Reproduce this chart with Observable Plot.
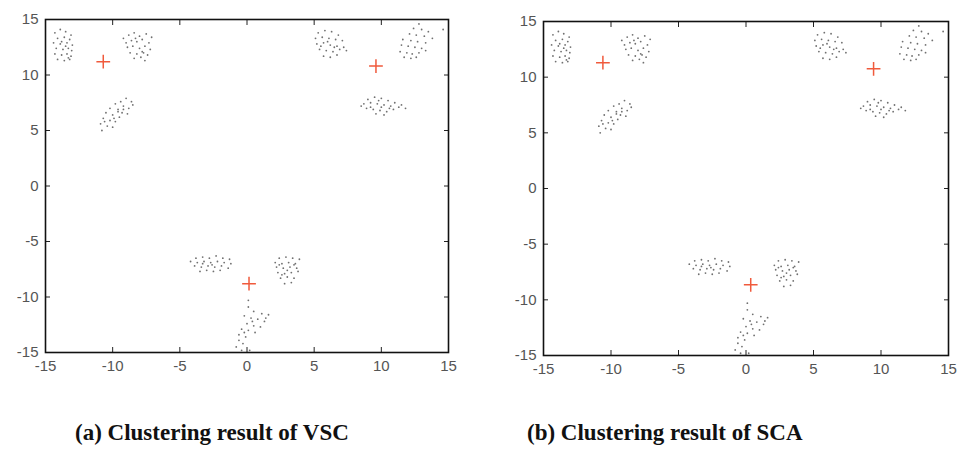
<!DOCTYPE html>
<html><head><meta charset="utf-8">
<script src="https://cdn.jsdelivr.net/npm/d3@7"></script>
<script src="https://cdn.jsdelivr.net/npm/@observablehq/plot@0.6"></script>
<style>
body{margin:0;background:#fff;width:959px;height:457px;position:relative;overflow:hidden}
.panel{position:absolute;top:0}
.cap{position:absolute;top:421px;font-family:"Liberation Serif","Times New Roman",serif;font-weight:bold;font-size:23px;color:#111;white-space:nowrap;line-height:1}
</style></head>
<body>
<div id="a" class="panel" style="left:0"></div>
<div id="b" class="panel" style="left:480px"></div>
<div id="capA" class="cap" style="left:75px"></div>
<div id="capB" class="cap" style="left:527px"></div>
<script>
const ticks = [-15, -10, -5, 0, 5, 10, 15];
const captions = ["(a) Clustering result of VSC", "(b) Clustering result of SCA"];

const cluster1 = [[-14.3,13.8],[-13.9,14.1],[-13.5,13.9],[-13.1,13.6],[-14.1,13.3],[-13.6,13.4],[-13.2,13.2],[-14.4,12.9],[-13.9,12.8],[-13.4,12.9],[-13.0,12.7],[-14.2,12.4],[-13.7,12.3],[-13.3,12.4],[-13.05,12.2],[-14.3,11.9],[-13.8,11.8],[-13.4,11.9],[-13.1,11.7],[-14.1,11.4],[-13.6,11.3],[-13.2,11.4],[-13.5,12.6],[-13.8,13.0],[-13.3,11.55]];
const cluster2 = [[-9.2,13.3],[-8.8,13.6],[-8.4,13.8],[-8.0,13.5],[-7.5,13.7],[-7.1,13.4],[-9.0,12.9],[-8.6,13.1],[-8.2,13.0],[-7.8,13.2],[-7.3,12.9],[-8.9,12.5],[-8.5,12.6],[-8.0,12.4],[-7.6,12.6],[-7.2,12.3],[-8.7,12.0],[-8.2,11.9],[-7.8,12.1],[-7.4,11.8],[-8.4,11.5],[-7.9,11.6],[-7.6,11.3],[-8.3,13.3],[-7.7,12.0]];
const cluster3 = [[-9.0,7.9],[-8.6,7.6],[-9.4,7.6],[-9.8,7.4],[-9.2,7.2],[-8.8,7.0],[-10.2,7.0],[-9.6,6.9],[-9.3,6.6],[-8.9,6.5],[-10.5,6.6],[-10.0,6.4],[-9.5,6.2],[-10.7,6.1],[-10.2,5.9],[-9.8,5.8],[-10.9,5.6],[-10.4,5.4],[-10.0,5.3],[-10.8,5.0],[-9.6,6.7],[-9.9,6.1],[-10.6,5.8],[-9.2,6.9],[-8.5,7.3]];
const cluster4 = [[5.3,13.8],[5.8,14.0],[6.3,13.9],[6.8,13.6],[5.1,13.3],[5.6,13.4],[6.1,13.3],[6.6,13.2],[7.1,13.1],[5.2,12.8],[5.7,12.9],[6.2,12.7],[6.7,12.6],[7.2,12.5],[5.4,12.3],[5.9,12.2],[6.4,12.1],[6.9,12.3],[7.4,12.2],[5.7,11.7],[6.2,11.6],[6.7,11.8],[6.0,13.0],[5.5,12.6],[6.5,12.5]];
const cluster5 = [[12.8,14.6],[12.4,14.2],[13.0,14.1],[13.5,13.9],[12.1,13.7],[12.6,13.6],[13.2,13.5],[13.8,13.3],[11.6,13.2],[12.2,13.1],[12.7,13.0],[13.3,12.9],[11.5,12.7],[12.0,12.6],[12.5,12.5],[13.0,12.4],[11.4,12.1],[11.9,12.0],[12.3,11.9],[12.8,12.0],[13.3,12.2],[11.7,11.6],[12.2,11.5],[12.6,11.6],[14.6,14.1]];
const cluster6 = [[9.0,7.8],[9.5,8.0],[10.0,7.9],[10.5,7.7],[11.0,7.5],[8.7,7.4],[9.2,7.5],[9.7,7.4],[10.2,7.3],[10.7,7.2],[11.3,7.1],[11.8,7.0],[8.9,7.0],[9.4,6.9],[9.9,6.8],[10.4,6.7],[10.9,6.9],[9.6,6.5],[10.2,6.4],[8.5,7.2],[9.8,7.7],[10.6,7.0],[11.5,7.3],[9.2,7.1],[10.0,7.1]];
const cluster7 = [[-3.8,-6.5],[-3.3,-6.4],[-2.8,-6.5],[-2.3,-6.3],[-1.8,-6.5],[-1.3,-6.6],[-4.2,-6.8],[-3.7,-6.9],[-3.2,-6.8],[-2.7,-6.9],[-2.2,-6.8],[-1.7,-6.9],[-1.2,-7.0],[-3.9,-7.2],[-3.4,-7.3],[-2.9,-7.2],[-2.4,-7.3],[-1.9,-7.2],[-1.4,-7.4],[-3.5,-7.7],[-3.0,-7.6],[-2.5,-7.7],[-2.0,-7.6],[-3.3,-7.0],[-2.6,-7.1]];
const cluster8 = [[2.4,-6.5],[2.9,-6.4],[3.4,-6.5],[3.9,-6.6],[2.1,-6.9],[2.6,-7.0],[3.1,-6.9],[3.6,-7.0],[2.2,-7.3],[2.7,-7.4],[3.2,-7.3],[3.7,-7.4],[2.3,-7.8],[2.8,-7.9],[3.3,-7.8],[3.8,-7.7],[2.5,-8.3],[3.0,-8.2],[3.5,-8.3],[2.8,-8.8],[3.3,-8.7],[2.4,-7.1],[3.0,-7.6],[2.6,-8.0],[3.5,-7.1]];
const cluster9 = [[0.1,-10.3],[0.1,-10.9],[0.5,-11.3],[1.1,-11.5],[1.6,-11.6],[-0.2,-11.7],[0.3,-11.9],[0.8,-12.0],[1.3,-12.2],[0.0,-12.4],[0.5,-12.6],[1.0,-12.7],[-0.4,-12.9],[0.1,-13.0],[0.6,-13.2],[-0.6,-13.4],[-0.1,-13.6],[-0.6,-13.9],[-0.3,-14.2],[-0.8,-14.5],[-0.4,-14.8],[0.2,-14.8],[0.4,-12.2],[-0.2,-13.2],[1.4,-11.9]];

const centroidsVSC = [[-10.7,11.2],[9.6,10.8],[0.15,-8.8]];
const centroidsSCA = [[-10.6,11.3],[9.45,10.75],[0.35,-8.65]];

const points = [cluster1,cluster2,cluster3,cluster4,cluster5,cluster6,cluster7,cluster8,cluster9].flat();

function panel(centroids, m) {
  return Plot.plot({
    width: m.width, height: m.height,
    marginLeft: m.ml, marginRight: m.mr, marginTop: m.mt, marginBottom: m.mb,
    x: {domain: [-15, 15]},
    y: {domain: [-15, 15]},
    style: {fontFamily: "'Liberation Sans', Arial, sans-serif", color: "#444", background: "transparent", overflow: "visible"},
    marks: [
      Plot.axisX({anchor: "bottom", ticks, tickSize: -5, tickPadding: 13, label: null, tickFormat: d => String(d), stroke: "#222", fill: "#555", fontSize: 15}),
      Plot.axisX({anchor: "top", ticks, tickSize: -5, label: null, tickFormat: () => "", stroke: "#222"}),
      Plot.axisY({anchor: "left", ticks, tickSize: -5, tickPadding: 12, label: null, tickFormat: d => String(d), stroke: "#222", fill: "#555", fontSize: 15}),
      Plot.axisY({anchor: "right", ticks, tickSize: -5, label: null, tickFormat: () => "", stroke: "#222"}),
      Plot.frame({stroke: "#111", strokeWidth: 1.6}),
      Plot.dot(points, {x: d => d[0], y: d => d[1], r: 0.9, fill: "#333", fillOpacity: 0.7, stroke: null}),
      Plot.dot(centroids, {x: d => d[0], y: d => d[1], symbol: "plus", r: 4.5, stroke: "#f05a3c", strokeWidth: 1.5})
    ]
  });
}

document.getElementById("a").append(panel(centroidsVSC, {width: 480, height: 400, ml: 45, mr: 32, mt: 19, mb: 48}));
document.getElementById("b").append(panel(centroidsSCA, {width: 479, height: 400, ml: 63, mr: 11, mt: 21, mb: 45}));
document.getElementById("capA").textContent = captions[0];
document.getElementById("capB").textContent = captions[1];
</script>
</body></html>
